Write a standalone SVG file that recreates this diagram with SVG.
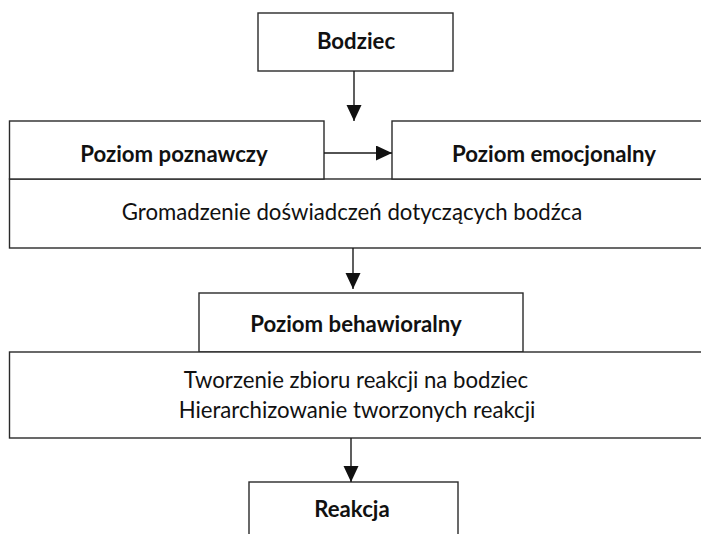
<svg xmlns="http://www.w3.org/2000/svg" width="701" height="534" viewBox="0 0 701 534">
<style>
.box{fill:#fff;stroke:#2a2a2a;stroke-width:1.4}
.b{font-family:Lato,"Open Sans","Liberation Sans",sans-serif;font-weight:bold;font-size:22.2px;fill:#111;text-anchor:middle}
.r{font-family:Lato,"Open Sans","Liberation Sans",sans-serif;font-size:22.2px;fill:#111;text-anchor:middle}
.c{stroke:#1a1a1a;stroke-width:1.4;fill:none}
</style>
<defs>
<marker id="ah" markerUnits="userSpaceOnUse" markerWidth="16" markerHeight="16" refX="16" refY="7.5" orient="auto">
<path d="M0,0 L16,7.5 L0,15 Z" fill="#111"/>
</marker>
</defs>
<rect width="701" height="534" fill="#fff"/>
<g id="bodziec"><rect class="box" x="258" y="13" width="195" height="58"/><text class="b" x="356" y="49">Bodziec</text></g>
<g id="gromadzenie"><rect class="box" x="9.5" y="179" width="720" height="69"/><text class="r" x="352" y="220">Gromadzenie doświadczeń dotyczących bodźca</text></g>
<g id="poznawczy"><rect class="box" x="9.5" y="121" width="314.5" height="58"/><text class="b" x="174" y="162">Poziom poznawczy</text></g>
<g id="emocjonalny"><rect class="box" x="392" y="121" width="330" height="58"/><text class="b" x="554" y="162">Poziom emocjonalny</text></g>
<g id="behawioralny"><rect class="box" x="199" y="293" width="324" height="59"/><text class="b" x="356" y="332">Poziom behawioralny</text></g>
<g id="tworzenie"><rect class="box" x="9.5" y="352" width="720" height="86"/><text class="r" x="356" y="388">Tworzenie zbioru reakcji na bodziec</text><text class="r" x="357" y="418">Hierarchizowanie tworzonych reakcji</text></g>
<g id="reakcja"><rect class="box" x="249" y="482" width="209" height="70"/><text class="b" x="352" y="517">Reakcja</text></g>
<g id="connectors">
<line class="c" x1="354" y1="71" x2="354" y2="121" marker-end="url(#ah)"/>
<line class="c" x1="324" y1="153" x2="392" y2="153" marker-end="url(#ah)"/>
<line class="c" x1="353" y1="248" x2="353" y2="289" marker-end="url(#ah)"/>
<line class="c" x1="351" y1="438" x2="351" y2="482" marker-end="url(#ah)"/>
</g>
</svg>
